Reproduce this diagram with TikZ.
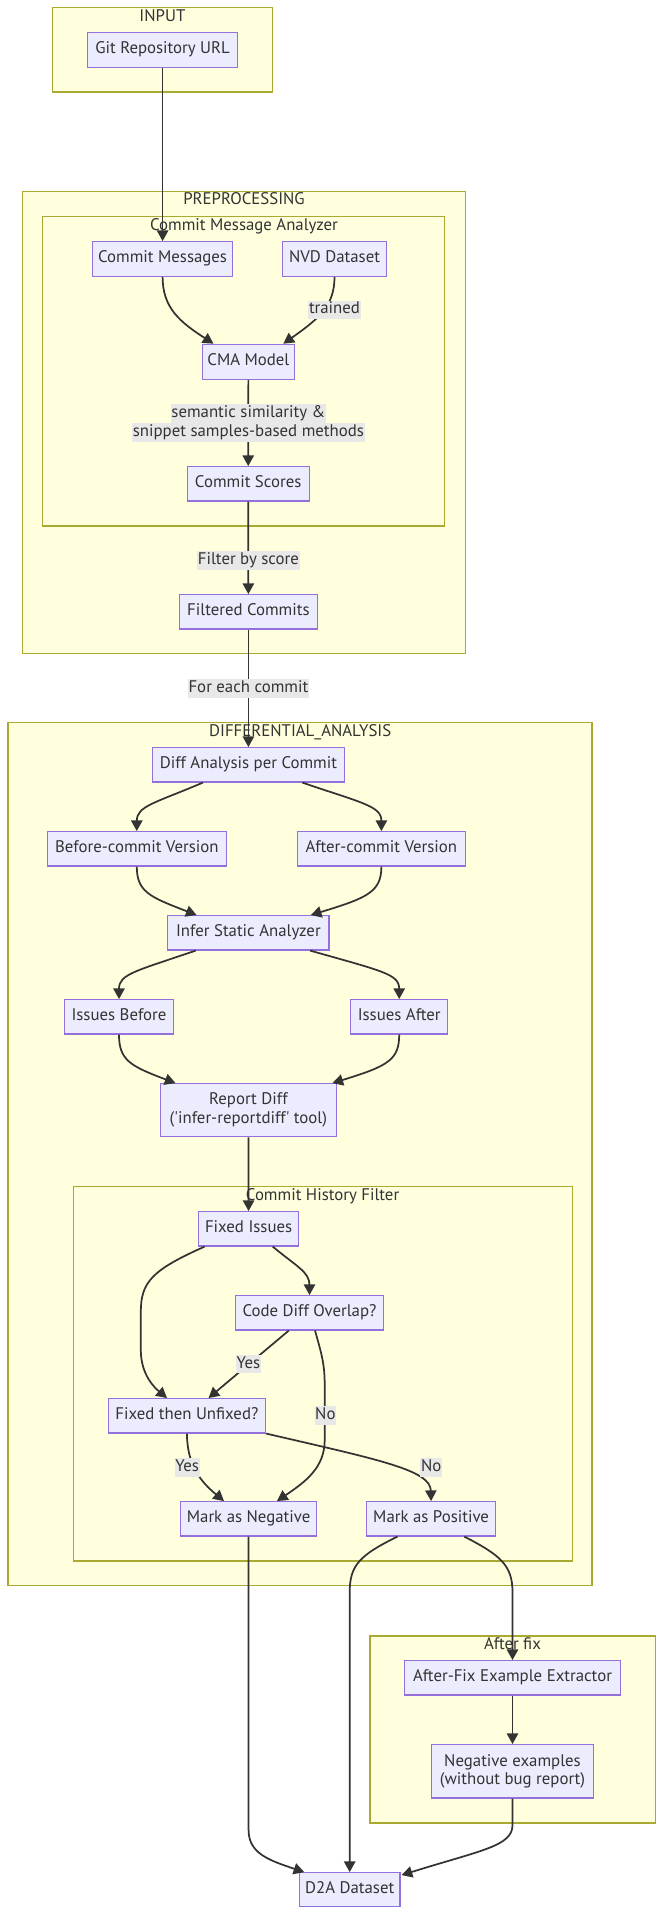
\documentclass[tikz,border=0pt]{standalone}
\usepackage{fontspec}
\setmainfont{PT Sans}
\usetikzlibrary{arrows.meta,calc}
\definecolor{clf}{HTML}{FFFFDE}
\definecolor{clb}{HTML}{AAAA33}
\definecolor{nf}{HTML}{ECECFF}
\definecolor{nb}{HTML}{9370DB}
\definecolor{ln}{HTML}{333333}
\definecolor{lbl}{HTML}{E8E8E8}
\begin{document}
\begin{tikzpicture}[x=0.75pt,y=-0.75pt,
  every node/.style={font=\fontsize{12.6}{14}\selectfont, text=ln},
  cluster/.style={draw=clb, fill=clf, line width=0.8pt},
  clabel/.style={inner sep=0pt, text height=9pt, text depth=3pt},
  box/.style={draw=nb, fill=nf, line width=0.9pt, inner sep=0pt, align=center, text height=9pt, text depth=3pt},
  boxtwo/.style={draw=nb, fill=nf, line width=0.9pt, inner sep=0pt, align=center},
  wh/.style 2 args={minimum width=#1*0.75pt, minimum height=#2*0.75pt},
  edge/.style={draw=ln, line width=1.3pt, -{Triangle[length=8pt,width=8.5pt]}},
  elabel/.style={fill=lbl, inner xsep=0.5pt, inner ysep=1pt, text height=9pt, text depth=3pt}
]
\useasboundingbox (0,0) rectangle (663,1915);

% clusters
\draw[cluster] (52.9,7.7) rectangle (272.3,92);
\node[clabel] (inputL) at (162.4,17.5) {INPUT};
\draw[cluster] (22.8,191.7) rectangle (465.1,653.7);
\node[clabel] (preL) at (244,201) {PREPROCESSING};
\draw[cluster] (42.7,216.7) rectangle (444.8,526);
\node[clabel] (cmaL) at (244,226.7) {Commit Message Analyzer};
\draw[cluster] (8,722.7) rectangle (592,1585.7);
\node[clabel] (diffL) at (300.2,732.3) {DIFFERENTIAL\_ANALYSIS};
\draw[cluster] (73.6,1186.7) rectangle (572.1,1561);
\node[clabel] (chfL) at (322.6,1196.7) {Commit History Filter};
\draw[cluster] (370,1636) rectangle (655.4,1823);
\node[clabel] (afL) at (512.5,1645.3) {After fix};

% nodes
\node[box, wh={150}{35}] (git) at (162.6,49.8) {Git Repository URL};
\node[box, wh={140}{34.6}] (cm) at (162.6,259) {Commit Messages};
\node[box, wh={104}{34.6}] (nvd) at (334.5,259) {NVD Dataset};
\node[box, wh={91.8}{35}] (cma) at (248.4,361.8) {CMA Model};
\node[box, wh={121.8}{34.3}] (scores) at (248.2,483.8) {Commit Scores};
\node[box, wh={138.2}{34.3}] (filtered) at (248.4,611.8) {Filtered Commits};
\node[box, wh={191.6}{34.3}] (diffa) at (248.4,764.8) {Diff Analysis per Commit};
\node[box, wh={178.8}{34.3}] (before) at (136.8,848.8) {Before-commit Version};
\node[box, wh={168.2}{34.3}] (after) at (381.4,848.8) {After-commit Version};
\node[box, wh={161.1}{34.3}] (infer) at (248.4,932.8) {Infer Static Analyzer};
\node[box, wh={108.7}{34.3}] (ib) at (119,1016.8) {Issues Before};
\node[box, wh={97.3}{34.3}] (ia) at (399.2,1016.8) {Issues After};
\node[boxtwo, wh={175.5}{53}] (report) at (248.4,1110.2) {Report Diff\\(\textquotesingle infer-reportdiff\textquotesingle{} tool)};
\node[box, wh={99.8}{34.3}] (fixed) at (248.6,1228.8) {Fixed Issues};
\node[box, wh={148}{34.3}] (overlap) at (309.5,1312.8) {Code Diff Overlap?};
\node[box, wh={157.3}{34.3}] (ftu) at (186.9,1415.8) {Fixed then Unfixed?};
\node[box, wh={136.2}{34.3}] (neg) at (248.6,1518.8) {Mark as Negative};
\node[box, wh={129}{34.3}] (pos) at (431.1,1518.8) {Mark as Positive};
\node[box, wh={215.6}{34.3}] (extr) at (512.5,1677.8) {After-Fix Example Extractor};
\node[boxtwo, wh={162.4}{53.3}] (negex) at (512.5,1771.3) {Negative examples\\(without bug report)};
\node[box, wh={100.6}{34}] (d2a) at (349.7,1889.7) {D2A Dataset};

% edges
\draw[edge] (git) -- (cm);
\draw[edge] (cm.south) .. controls (162.6,308) and (180,322) .. ($(cma.north)+(-34.9,0)$);
\draw[edge] (nvd.south) .. controls (334.5,305) and (320,318) .. ($(cma.north)+(34.9,0)$);
\draw[edge] (cma) -- (scores);
\draw[edge] (scores) -- (filtered);
\draw[edge] (filtered) -- (diffa);
\draw[edge] ($(diffa.south)+(-45.4,0)$) .. controls (155,803) and (136.8,806) .. (before.north);
\draw[edge] ($(diffa.south)+(53.9,0)$) .. controls (362,803) and (381.4,806) .. (after.north);
\draw[edge] (before.south) .. controls (136.8,892) and (150,897) .. ($(infer.north)+(-51.8,0)$);
\draw[edge] (after.south) .. controls (381.4,892) and (367,898) .. ($(infer.north)+(62.4,0)$);
\draw[edge] ($(infer.south)+(-52.6,0)$) .. controls (136,971) and (119,974) .. (ib.north);
\draw[edge] ($(infer.south)+(61.6,0)$) .. controls (382,971) and (399.2,974) .. (ia.north);
\draw[edge] (ib.south) .. controls (119,1060) and (130,1066) .. ($(report.north)+(-72.9,0)$);
\draw[edge] (ia.south) .. controls (399.2,1060) and (388,1066) .. ($(report.north)+(84,0)$);
\draw[edge] (report) -- (fixed);
\draw[edge] ($(fixed.south)+(-43.9,0)$) .. controls (152,1270) and (140.8,1282) .. (140.8,1312) -- (140.8,1350) .. controls (140.8,1375) and (155,1388) .. ($(ftu.north)+(-19.9,0)$);
\draw[edge] ($(fixed.south)+(24.1,0)$) .. controls (296,1266) and (309.5,1272) .. (overlap.north);
\draw[edge] ($(overlap.south)+(-20.7,0)$) -- ($(ftu.north)+(21.6,0)$);
\draw[edge] ($(overlap.south)+(5.5,0)$) .. controls (322,1355) and (324.7,1365) .. (324.7,1385) -- (324.7,1440) .. controls (324.7,1468) and (305,1482) .. ($(neg.north)+(28.4,0)$);
\draw[edge] (ftu.south) .. controls (187.3,1465) and (200,1481) .. ($(neg.north)+(-24.6,0)$);
\draw[edge] (ftu.south east) .. controls (380,1460) and (430.4,1470) .. (pos.north);
\draw[edge] (neg.south) -- (248.6,1830) .. controls (248.6,1853) and (268,1860) .. ($(d2a.north)+(-45.4,0)$);
\draw[edge] ($(pos.south)+(-33.6,0)$) .. controls (360,1555) and (349.7,1565) .. (349.7,1592) -- (d2a.north);
\draw[edge] ($(pos.south)+(33.2,0)$) .. controls (500,1555) and (512.5,1565) .. (512.5,1592) -- (extr.north);
\draw[edge] (extr) -- (negex);
\draw[edge] (negex.south) -- (512.5,1825) .. controls (512.5,1846) and (482,1850) .. ($(d2a.north east)+(1,3)$);

% edge labels
\node[elabel] (l1) at (334.5,310) {trained};
\node[elabel] (l2a) at (248.4,413.3) {semantic similarity \&};
\node[elabel] (l2b) at (248.4,432.3) {snippet samples-based methods};
\node[elabel] (l3) at (248.4,560.3) {Filter by score};
\node[elabel] (l4) at (248.4,688.5) {For each commit};
\node[elabel] (l5) at (248.4,1364) {Yes};
\node[elabel] (l6) at (325.4,1415.8) {No};
\node[elabel] (l7) at (187.1,1467.3) {Yes};
\node[elabel] (l8) at (431.3,1467.3) {No};
\end{tikzpicture}
\end{document}
